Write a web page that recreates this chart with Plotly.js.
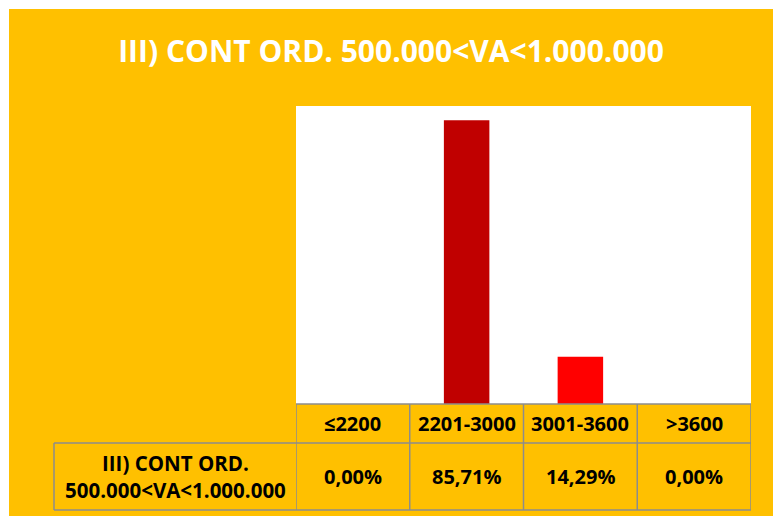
<!DOCTYPE html>
<html>
<head>
<meta charset="utf-8">
<script src="https://cdn.plot.ly/plotly-3.0.1.min.js"></script>
<style>
html,body{margin:0;padding:0;background:#ffffff;}
#chart{position:absolute;left:9px;top:9px;width:764px;height:507px;}
</style>
</head>
<body>
<div id="chart"></div>
<script>
const chartTitle = "III) CONT ORD. 500.000<VA<1.000.000";
const categories = ["≤2200", "2201-3000", "3001-3600", ">3600"];
const seriesName = "III) CONT ORD.<br>500.000<VA<1.000.000";
const values = [0.0, 85.71, 14.29, 0.0];
const valueLabels = ["0,00%", "85,71%", "14,29%", "0,00%"];
const barColors = ["#C00000", "#C00000", "#FF0000", "#FF0000"];

const FONT = "Open Sans, sans-serif";
const gridCol = "#8C8C8C";
const hdrBottom = -39/298;   // header row bottom (paper)
const tblBottom = -106/298;  // table bottom (paper)
const leftEdge = -242/455;   // left edge of row-label column (paper)

const shapes = [];
function line(xref, x0, y0, x1, y1) {
  shapes.push({type: 'line', xref: xref, yref: 'paper', x0: x0, y0: y0, x1: x1, y1: y1,
    line: {color: gridCol, width: 1.5}, layer: 'above'});
}
// horizontal lines
line('paper', 0, 0, 1, 0);
line('paper', leftEdge, hdrBottom, 1, hdrBottom);
line('paper', leftEdge, tblBottom, 1, tblBottom);
// vertical lines
line('paper', leftEdge, hdrBottom, leftEdge, tblBottom);
for (let i = 0; i <= categories.length; i++) {
  line('x', i - 0.5, 0, i - 0.5, tblBottom);
}

const annotations = [];
categories.forEach((c, i) => {
  annotations.push({x: c, xref: 'x', y: -19.5/298, yref: 'paper', text: c, showarrow: false,
    font: {family: FONT, size: 20, color: '#000000', weight: 'bold'}, xanchor: 'center', yanchor: 'middle'});
  annotations.push({x: c, xref: 'x', y: -72.5/298, yref: 'paper', text: valueLabels[i], showarrow: false,
    font: {family: FONT, size: 20, color: '#000000', weight: 'bold'}, xanchor: 'center', yanchor: 'middle'});
});
annotations.push({x: (leftEdge) / 2, xref: 'paper', y: -72.5/298, yref: 'paper', text: seriesName,
  showarrow: false, font: {family: FONT, size: 20.5, color: '#000000', weight: 'bold'},
  xanchor: 'center', yanchor: 'middle', align: 'center'});

const trace = {
  type: 'bar', x: categories, y: values, name: seriesName,
  marker: {color: barColors}, width: 0.4, hoverinfo: 'none'
};

const layout = {
  width: 764, height: 507,
  margin: {l: 287, r: 22, t: 97, b: 112},
  paper_bgcolor: '#FFC000', plot_bgcolor: '#FFFFFF',
  showlegend: false,
  title: {text: '<b>' + chartTitle.replace(/</g, '&lt;') + '</b>', x: 0.5, xref: 'container', y: 1 - 42/507,
    yref: 'container', yanchor: 'middle', xanchor: 'center',
    font: {family: FONT, size: 30, color: '#FFFFFF'}},
  xaxis: {type: 'category', categoryarray: categories, range: [-0.5, 3.5], showticklabels: false,
    showgrid: false, zeroline: false, showline: false, ticks: ''},
  yaxis: {range: [0, 90], showticklabels: false, showgrid: false, zeroline: false, showline: false, ticks: ''},
  shapes: shapes, annotations: annotations
};

Plotly.newPlot('chart', [trace], layout, {displayModeBar: false, staticPlot: true});
</script>
</body>
</html>
